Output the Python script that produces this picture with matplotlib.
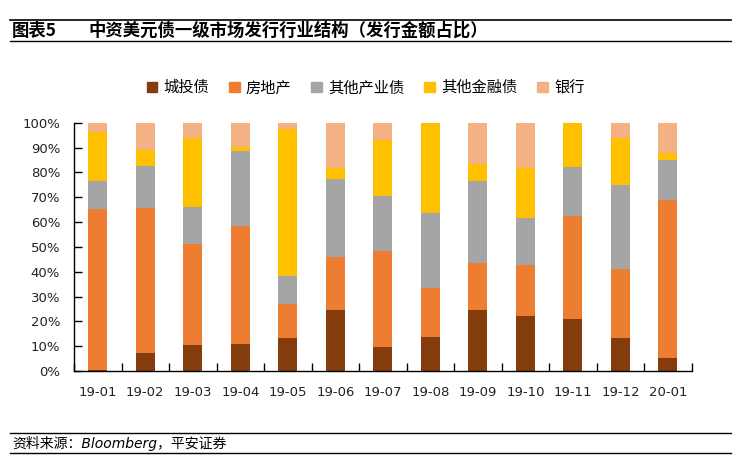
import matplotlib
matplotlib.use("Agg")
import matplotlib.pyplot as plt
from matplotlib.lines import Line2D
import numpy as np

plt.rcParams['font.family'] = ['DejaVu Sans', 'Noto Sans CJK SC']

categories = ["19-01", "19-02", "19-03", "19-04", "19-05", "19-06", "19-07",
              "19-08", "19-09", "19-10", "19-11", "19-12", "20-01"]
series_names = ["城投债", "房地产", "其他产业债", "其他金融债", "银行"]
# percent shares
chengtou = [0.5, 7.4, 10.5, 10.9, 13.4, 24.6, 9.8, 13.8, 24.7, 22.1, 21.1, 13.4, 5.4]
fangdichan = [64.6, 58.4, 40.8, 47.5, 13.7, 21.2, 38.5, 19.8, 18.9, 20.6, 41.2, 27.8, 63.7]
qita_chanye = [11.4, 16.9, 14.9, 30.3, 11.0, 31.6, 22.2, 29.9, 33.0, 19.0, 20.0, 33.7, 16.0]
qita_jinrong = [19.9, 6.2, 27.8, 1.6, 59.6, 4.5, 22.8, 36.5, 6.9, 20.0, 17.7, 19.1, 2.8]
yinhang = [3.6, 11.1, 6.0, 9.7, 2.3, 18.1, 6.7, 0.0, 16.5, 18.3, 0.0, 6.0, 12.1]

colors = ["#843C0C", "#ED7D31", "#A5A5A5", "#FFC000", "#F4B183"]
series = [chengtou, fangdichan, qita_chanye, qita_jinrong, yinhang]

fig = plt.figure(figsize=(7.46, 4.69), dpi=100)
ax = fig.add_axes([0.0992, 0.209, 0.828, 0.529])

x = np.arange(len(categories))
bottom = np.zeros(len(categories))
for name, vals, c in zip(series_names, series, colors):
    v = np.array(vals) / 100.0
    ax.bar(x, v, width=0.4, bottom=bottom, color=c, label=name, zorder=2)
    bottom += v

ax.set_xlim(-0.5, len(categories) - 0.5)
ax.set_ylim(0, 1.0)
ax.set_yticks(np.linspace(0, 1, 11))
ax.set_yticklabels([f"{int(round(t*100))}%" for t in np.linspace(0, 1, 11)], fontsize=9.5, color="#222222")
ax.set_xticks(x)
ax.set_xticklabels(categories, fontsize=9.5, color="#222222")
ax.set_xticks(np.arange(-0.5, len(categories), 1.0), minor=True)
ax.tick_params(axis='x', which='major', length=0, pad=11)
ax.tick_params(axis='x', which='minor', direction='in', length=6, width=1, color="black")
ax.tick_params(axis='y', which='major', direction='in', length=5.5, width=1, color="black", pad=10)

for s in ["top", "right"]:
    ax.spines[s].set_visible(False)
for s in ["left", "bottom"]:
    ax.spines[s].set_color("black")
    ax.spines[s].set_linewidth(1)

handles = [plt.Rectangle((0, 0), 1, 1, color=c) for c in colors]
leg = fig.legend(handles, series_names, loc="center", bbox_to_anchor=(0.49, 0.813),
                 ncol=5, frameon=False, handlelength=0.7, handleheight=0.7,
                 columnspacing=1.3, handletextpad=0.4, prop={'family': ['Noto Sans CJK SC'], 'size': 11})

# title block
fig.add_artist(Line2D([0.013, 0.98], [1 - 20/469, 1 - 20/469], color="black", lw=1.2))
fig.add_artist(Line2D([0.013, 0.98], [1 - 41/469, 1 - 41/469], color="black", lw=1.0))
fig.text(0.016, 1 - 30.5/469, "图表5", fontsize=12.5, fontweight="bold", va="center",
         family=['Noto Sans CJK SC', 'DejaVu Sans'])
fig.text(0.119, 1 - 30.5/469, "中资美元债一级市场发行行业结构（发行金额占比）", fontsize=12.5,
         fontweight="bold", va="center", family=['Noto Sans CJK SC', 'DejaVu Sans'])

# footer
fig.add_artist(Line2D([0.013, 0.98], [1 - 433/469, 1 - 433/469], color="black", lw=1.0))
fig.add_artist(Line2D([0.013, 0.98], [1 - 453/469, 1 - 453/469], color="black", lw=1.0))
fig.text(0.016, 1 - 443/469, "资料来源：Bloomberg，平安证券", fontsize=10, style="italic", va="center",
         family=['DejaVu Sans', 'Noto Sans CJK SC'])

fig.savefig("out.png", dpi=100)
